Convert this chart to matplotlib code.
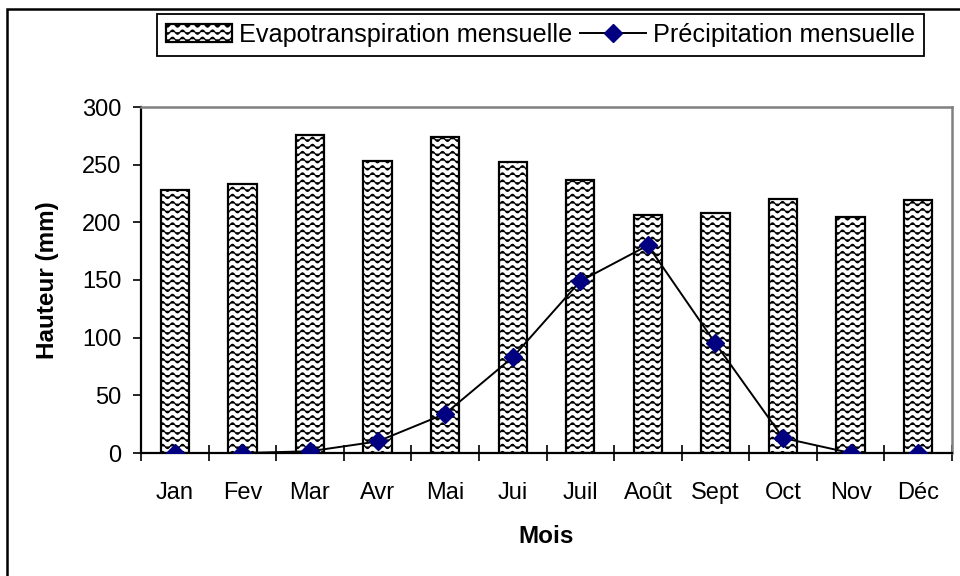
import warnings
warnings.filterwarnings("ignore")
import numpy as np
import matplotlib
matplotlib.use("Agg")
import matplotlib.pyplot as plt
import matplotlib.hatch as mhatch
from matplotlib.path import Path
from matplotlib.patches import Rectangle
from matplotlib.ticker import FixedLocator

months = ["Jan", "Fev", "Mar", "Avr", "Mai", "Jui", "Juil", "Août", "Sept", "Oct", "Nov", "Déc"]
evapotranspiration = [228, 233, 276, 253, 274, 252, 237, 206, 208, 220, 205, 219]
precipitation = [0, 0, 1.5, 10, 34, 83, 149, 180, 95, 13, 0, 0]


class WavyHatch(mhatch.HatchPatternBase):
    def __init__(self, hatch, density):
        self.n_rows = 14 if "~" in hatch else 0
        self.n_waves = 10
        self.n_pts = 121
        self.num_vertices = self.n_rows * self.n_pts

    def set_vertices_and_codes(self, vertices, codes):
        x = np.linspace(-0.05, 1.05, self.n_pts)
        for i in range(self.n_rows):
            y0 = (i + 0.5) / self.n_rows
            y = y0 + 0.021 * np.sin(2 * np.pi * self.n_waves * x)
            s = slice(i * self.n_pts, (i + 1) * self.n_pts)
            vertices[s, 0] = x
            vertices[s, 1] = y
            codes[s] = Path.LINETO
            codes[i * self.n_pts] = Path.MOVETO


mhatch._hatch_types.append(WavyHatch)

plt.rcParams["font.family"] = ["Liberation Sans", "DejaVu Sans"]
plt.rcParams["hatch.linewidth"] = 0.9

W, H = 960, 576
fig = plt.figure(figsize=(W / 100, H / 100), dpi=100)
ax = fig.add_axes([141 / W, 1 - 453 / H, (952 - 141) / W, (453 - 107) / H])

x = np.arange(len(months))
bars = ax.bar(x, evapotranspiration, width=0.42, color="white", edgecolor="black",
              linewidth=1.6, hatch="~", label="Evapotranspiration mensuelle", zorder=2)
line, = ax.plot(x, precipitation, color="black", lw=1.4, marker="D", markersize=9,
                markerfacecolor="#000080", markeredgecolor="#000080",
                label="Précipitation mensuelle", zorder=3)

ax.set_xlim(-0.5, len(months) - 0.5)
ax.set_ylim(0, 300)
ax.set_yticks(np.arange(0, 301, 50))
ax.set_xticks(x)
ax.set_xticklabels(months)
ax.xaxis.set_minor_locator(FixedLocator(np.arange(-0.5, len(months), 1.0)))
ax.tick_params(axis="x", which="major", length=0, pad=21, labelsize=17)
ax.tick_params(axis="x", which="minor", length=12, width=1.2, direction="inout", color="black")
ax.tick_params(axis="y", which="major", length=6, width=1.2, direction="out", pad=8,
               labelsize=17, color="black")

for side in ("left", "bottom"):
    ax.spines[side].set_color("black")
    ax.spines[side].set_linewidth(1.6)
for side in ("top", "right"):
    ax.spines[side].set_color("#808080")
    ax.spines[side].set_linewidth(1.8)

ax.set_xlabel("Mois", fontsize=17.5, fontweight="bold", labelpad=15)
ax.set_ylabel("Hauteur (mm)", fontsize=17.5, fontweight="bold", labelpad=17)

leg = ax.legend(handles=[bars, line], loc="center", ncol=2,
                bbox_to_anchor=(540.5 / W, 1 - 35 / H), bbox_transform=fig.transFigure,
                fontsize=18.2, frameon=True, fancybox=False, edgecolor="black",
                framealpha=1, handlelength=2.6, handletextpad=0.3, columnspacing=0.3,
                borderpad=0.35, borderaxespad=0)
leg.get_frame().set_linewidth(1.3)

fig.add_artist(Rectangle((7 / W, -0.1), 1.2, (H - 8.5) / H + 0.1,
                         transform=fig.transFigure, fill=False, lw=1.8, ec="black"))

fig.savefig("out.png", dpi=100, facecolor="white")
